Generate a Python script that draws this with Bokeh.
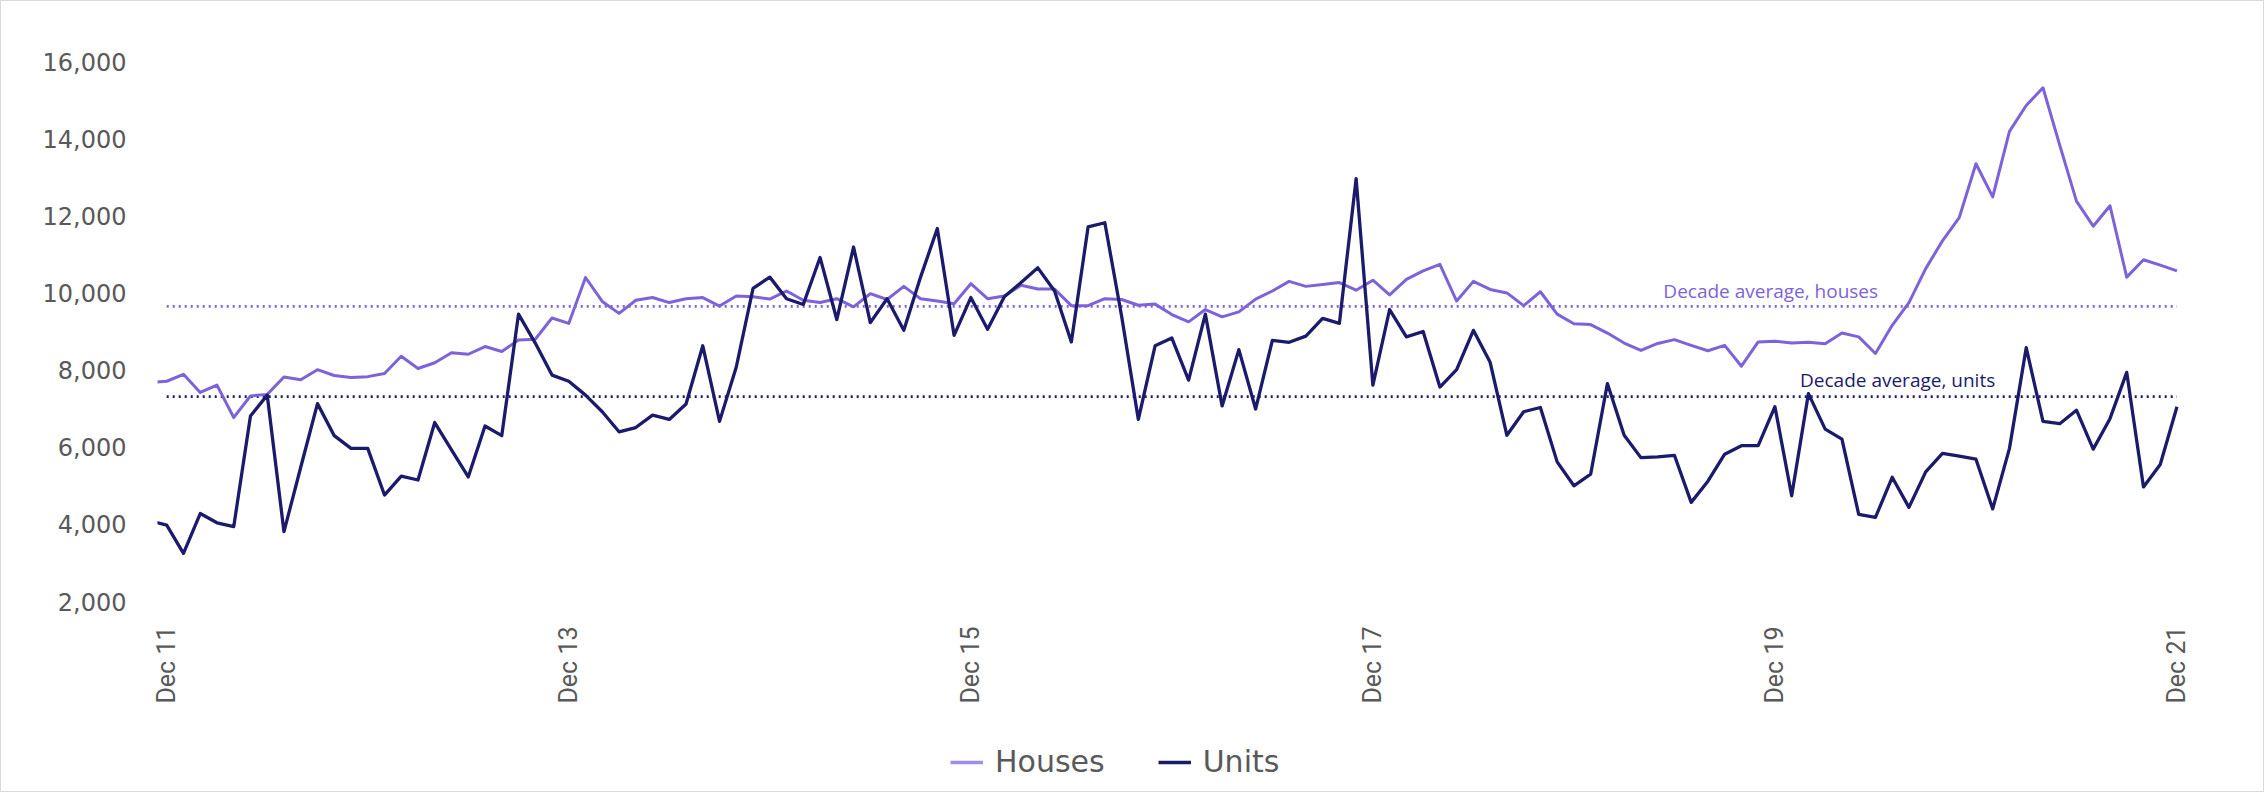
import math
from bokeh.plotting import figure
from bokeh.layouts import column
from bokeh.models import (Range1d, FixedTicker, NumeralTickFormatter, Legend,
                          LegendItem, Label)
from bokeh.embed import file_html
from bokeh.resources import INLINE

# ---- data (monthly, Nov 2011 .. Dec 2021; index 0 = Dec 11) ----
months = list(range(-1, 121))

houses = [
    7680,
    7710, 7890, 7420, 7610, 6770, 7330, 7370, 7820, 7750, 8010, 7860, 7810,
    7830, 7910, 8360, 8040, 8190, 8450, 8410, 8610, 8480, 8780, 8800, 9350,
    9210, 10400, 9780, 9470, 9810, 9880, 9750, 9850, 9880, 9660, 9920, 9900,
    9840, 10050, 9810, 9750, 9850, 9640, 9980, 9830, 10170, 9850, 9790, 9720,
    10240, 9850, 9920, 10200, 10100, 10100, 9670, 9670, 9850, 9830, 9680, 9710,
    9440, 9250, 9570, 9380, 9510, 9840, 10050, 10300, 10170, 10220, 10270, 10070,
    10330, 9950, 10350, 10570, 10740, 9790, 10300, 10090, 10000, 9670, 10030, 9450,
    9200, 9180, 8960, 8700, 8510, 8690, 8790, 8640, 8500, 8640, 8100, 8730,
    8750, 8700, 8720, 8680, 8960, 8860, 8430, 9160, 9750, 10630, 11350, 11950,
    13350, 12490, 14190, 14860, 15320, 13830, 12380, 11730, 12260, 10410, 10860, 10720,
    10570,
]

units = [
    4090,
    3980, 3250, 4280, 4040, 3940, 6810, 7350, 3810, 5480, 7130, 6300, 5970,
    5970, 4760, 5250, 5150, 6640, 5930, 5230, 6550, 6300, 9450, 8700, 7870,
    7710, 7350, 6920, 6400, 6510, 6830, 6720, 7120, 8630, 6670, 8080, 10120,
    10410, 9850, 9700, 10920, 9310, 11190, 9230, 9850, 9030, 10410, 11670, 8900,
    9880, 9060, 9900, 10270, 10650, 10050, 8730, 11710, 11820, 9400, 6720, 8630,
    8830, 7740, 9450, 7070, 8530, 6990, 8770, 8720, 8880, 9340, 9210, 12960,
    7610, 9570, 8860, 9000, 7560, 8010, 9030, 8200, 6310, 6920, 7030, 5620,
    5000, 5300, 7650, 6310, 5730, 5750, 5790, 4570, 5120, 5820, 6040, 6040,
    7050, 4740, 7390, 6470, 6210, 4260, 4180, 5220, 4440, 5360, 5840, 5770,
    5690, 4400, 5970, 8580, 6670, 6610, 6960, 5950, 6740, 7940, 4970, 5550,
    7050,
]

x_tick_positions = [0, 24, 48, 72, 96, 120]
x_tick_labels = ["Dec 11", "Dec 13", "Dec 15", "Dec 17", "Dec 19", "Dec 21"]
y_ticks = [2000, 4000, 6000, 8000, 10000, 12000, 14000, 16000]

avg_houses = 9650
avg_units = 7310
avg_span = [0, 120]
avg_label_houses = "Decade average, houses"
avg_label_units = "Decade average, units"
series_names = ["Houses", "Units"]

HOUSE_COLOR = "#7d62d9"
UNIT_COLOR = "#1b1a6b"
TEXT_GRAY = "#595959"

W = 2262

p = figure(width=W, height=720, output_backend="svg", toolbar_location=None,
           x_range=Range1d(-0.55, 120.15), y_range=Range1d(2000, 16000),
           min_border_left=156, min_border_right=84, min_border_top=60,
           min_border_bottom=120)
p.xgrid.visible = False
p.ygrid.visible = False
p.outline_line_color = None
p.background_fill_color = "white"
p.border_fill_color = "white"

xa = p.xaxis[0]
xa.ticker = FixedTicker(ticks=x_tick_positions)
xa.major_label_overrides = {t: l for t, l in zip(x_tick_positions, x_tick_labels)}
xa.major_label_orientation = math.pi / 2
xa.axis_line_color = None
xa.major_tick_line_color = None
xa.minor_tick_line_color = None
xa.major_tick_in = 0
xa.major_tick_out = 0
xa.major_label_standoff = 25
xa.major_label_text_font = "Roboto"
xa.major_label_text_font_size = "25px"
xa.major_label_text_color = TEXT_GRAY

ya = p.yaxis[0]
ya.ticker = FixedTicker(ticks=y_ticks)
ya.formatter = NumeralTickFormatter(format="0,0")
ya.axis_line_color = None
ya.major_tick_line_color = None
ya.minor_tick_line_color = None
ya.major_tick_in = 0
ya.major_tick_out = 0
ya.major_label_standoff = 31
ya.major_label_text_font = "DejaVu Sans"
ya.major_label_text_font_size = "24px"
ya.major_label_text_color = TEXT_GRAY

# average lines
p.line(avg_span, [avg_houses] * 2, line_color=HOUSE_COLOR, line_width=2.8,
       line_dash="2 4")
p.line(avg_span, [avg_units] * 2, line_color=UNIT_COLOR, line_width=2.8,
       line_dash="2 4")

p.line(months, houses, line_color=HOUSE_COLOR, line_width=3.0,
       line_join="round")
p.line(months, units, line_color=UNIT_COLOR, line_width=3.3,
       line_join="round")

# annotation labels sit just above their average lines
p.add_layout(Label(x=89.34, y=avg_houses + 400, text=avg_label_houses,
                   text_font="Open Sans", text_font_size="19px",
                   text_color=HOUSE_COLOR, text_baseline="alphabetic"))
p.add_layout(Label(x=97.5, y=avg_units + 420, text=avg_label_units,
                   text_font="Open Sans", text_font_size="19px",
                   text_color=UNIT_COLOR, text_baseline="alphabetic"))

# legend strip below the chart (swatch renderers lie outside the strip's range)
lf = figure(width=W, height=70, output_backend="svg", toolbar_location=None,
            x_range=Range1d(0, 1), y_range=Range1d(0, 1), min_border=0)
lf.xaxis.visible = False
lf.yaxis.visible = False
lf.xgrid.visible = False
lf.ygrid.visible = False
lf.outline_line_color = None
lh = lf.line([5, 6], [5, 5], line_color="#a28bee", line_width=3.5)
lu = lf.line([5, 6], [5, 5], line_color=UNIT_COLOR, line_width=3.5)
legend = Legend(items=[LegendItem(label=series_names[0], renderers=[lh]),
                       LegendItem(label=series_names[1], renderers=[lu])],
                orientation="horizontal", location=(793, 12),
                border_line_color=None, background_fill_alpha=0,
                label_text_font="DejaVu Sans", label_text_font_size="30px",
                label_text_color=TEXT_GRAY, glyph_width=33, glyph_height=20,
                label_standoff=12, spacing=53, padding=0, margin=0)
lf.add_layout(legend)

layout = column(p, lf, spacing=0, styles={"border": "1px solid #d9d9d9"})

open("out.html", "w").write(file_html(layout, INLINE))
